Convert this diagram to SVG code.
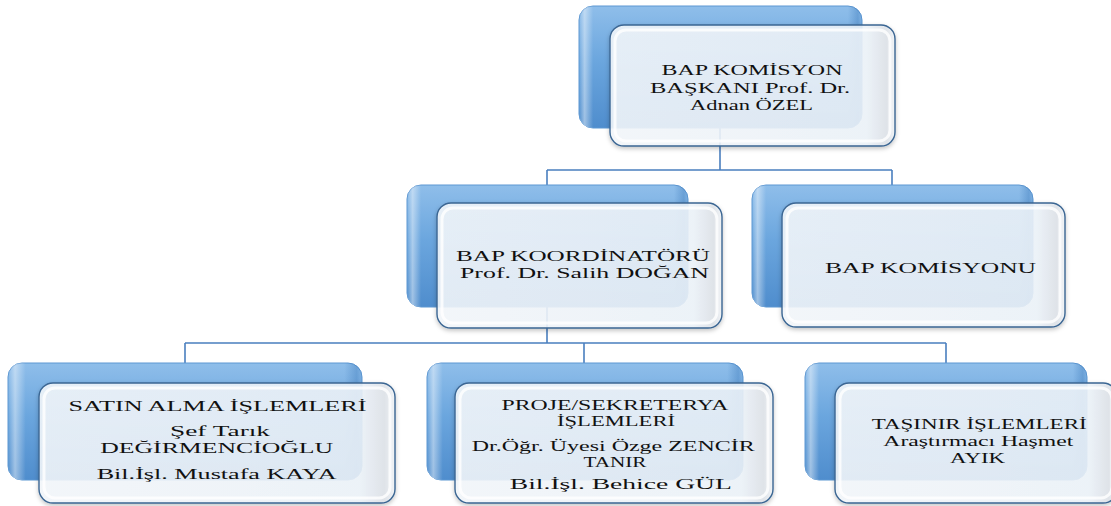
<svg xmlns="http://www.w3.org/2000/svg" width="1111" height="506" viewBox="0 0 1111 506">
  <defs>
    <linearGradient id="backGrad" x1="0" y1="0" x2="0" y2="1">
      <stop offset="0" stop-color="#8fbeea"/>
      <stop offset="0.45" stop-color="#6ba6de"/>
      <stop offset="1" stop-color="#4f8dcd"/>
    </linearGradient>
    <linearGradient id="backSide" x1="0" y1="0" x2="1" y2="0">
      <stop offset="0" stop-color="#ffffff" stop-opacity="0"/>
      <stop offset="0.02" stop-color="#ffffff" stop-opacity="0.45"/>
      <stop offset="0.05" stop-color="#ffffff" stop-opacity="0"/>
      <stop offset="0.95" stop-color="#2f6fb3" stop-opacity="0"/>
      <stop offset="0.985" stop-color="#2f6fb3" stop-opacity="0.35"/>
      <stop offset="1" stop-color="#2f6fb3" stop-opacity="0.1"/>
    </linearGradient>
    <linearGradient id="frontGrad" x1="0" y1="0" x2="1" y2="0">
      <stop offset="0" stop-color="#f4f8fc"/>
      <stop offset="0.9" stop-color="#eef4fa"/>
      <stop offset="0.97" stop-color="#dfe4ea"/>
      <stop offset="1" stop-color="#f2f5f8"/>
    </linearGradient>
    <filter id="shadow" x="-10%" y="-10%" width="120%" height="130%">
      <feDropShadow dx="0" dy="2" stdDeviation="2" flood-color="#000" flood-opacity="0.25"/>
    </filter>
  </defs>
  <style>
    .back { fill: url(#backGrad); stroke: #5d97d2; stroke-width: 1; }
    .backhl { fill: url(#backSide); }
    .front { fill: url(#frontGrad); fill-opacity: 0.88; stroke: #3b6693; stroke-width: 1.4; }
    .fronthl { fill: none; stroke: #ffffff; stroke-width: 3; stroke-opacity: 0.8; }
    .conn { fill: none; stroke: #4a7fbf; stroke-width: 1.6; }
    text { font-family: "Liberation Serif", "Times New Roman", serif; font-size: 14.5px; fill: #111; text-anchor: middle; }
  </style>

  <g id="connectors">
    <path class="conn" d="M720,128 V170 M547,170 H892 M547,170 V185 M892,170 V185"/>
    <path class="conn" d="M547,307 V343 M185,343 H946 M185,343 V363 M584,343 V363 M946,343 V363"/>
  </g>

  <g id="node-baskan">
    <rect class="back" x="579" y="6" width="283" height="122" rx="14"/>
    <rect class="backhl" x="579" y="6" width="283" height="122" rx="14"/>
    <rect class="front" x="610" y="25" width="285" height="121" rx="14" filter="url(#shadow)"/>
    <rect class="fronthl" x="615" y="30" width="275" height="111" rx="11"/>
    <text x="752" y="75" textLength="181" lengthAdjust="spacingAndGlyphs">BAP KOMİSYON</text>
    <text x="750" y="92.5" textLength="200" lengthAdjust="spacingAndGlyphs">BAŞKANI  Prof. Dr.</text>
    <text x="751.5" y="110" textLength="123" lengthAdjust="spacingAndGlyphs">Adnan ÖZEL</text>
  </g>

  <g id="node-koordinator">
    <rect class="back" x="407" y="185" width="281" height="122" rx="14"/>
    <rect class="backhl" x="407" y="185" width="281" height="122" rx="14"/>
    <rect class="front" x="437" y="203" width="285" height="125" rx="14" filter="url(#shadow)"/>
    <rect class="fronthl" x="442" y="208" width="275" height="115" rx="11"/>
    <text x="583" y="261" textLength="254" lengthAdjust="spacingAndGlyphs">BAP KOORDİNATÖRÜ</text>
    <text x="584.5" y="278" textLength="249" lengthAdjust="spacingAndGlyphs">Prof. Dr.  Salih DOĞAN</text>
  </g>

  <g id="node-komisyon">
    <rect class="back" x="752" y="185" width="281" height="122" rx="14"/>
    <rect class="backhl" x="752" y="185" width="281" height="122" rx="14"/>
    <rect class="front" x="782" y="203" width="283" height="124" rx="14" filter="url(#shadow)"/>
    <rect class="fronthl" x="787" y="208" width="273" height="114" rx="11"/>
    <text x="930.5" y="272.5" textLength="211" lengthAdjust="spacingAndGlyphs">BAP KOMİSYONU</text>
  </g>

  <g id="node-satinalma">
    <rect class="back" x="8" y="363" width="354" height="117" rx="14"/>
    <rect class="backhl" x="8" y="363" width="354" height="117" rx="14"/>
    <rect class="front" x="39" y="383" width="356" height="120" rx="14" filter="url(#shadow)"/>
    <rect class="fronthl" x="44" y="388" width="346" height="110" rx="11"/>
    <text x="217.5" y="410.7" textLength="298" lengthAdjust="spacingAndGlyphs">SATIN ALMA İŞLEMLERİ</text>
    <text x="220" y="436" textLength="100" lengthAdjust="spacingAndGlyphs">Şef Tarık</text>
    <text x="216.7" y="453.3" textLength="233" lengthAdjust="spacingAndGlyphs">DEĞİRMENCİOĞLU</text>
    <text x="216.7" y="479.3" textLength="240" lengthAdjust="spacingAndGlyphs">Bil.İşl.  Mustafa KAYA</text>
  </g>

  <g id="node-proje">
    <rect class="back" x="427" y="363" width="316" height="117" rx="14"/>
    <rect class="backhl" x="427" y="363" width="316" height="117" rx="14"/>
    <rect class="front" x="455" y="383" width="318" height="120" rx="14" filter="url(#shadow)"/>
    <rect class="fronthl" x="460" y="388" width="308" height="110" rx="11"/>
    <text x="615" y="409.5" textLength="227" lengthAdjust="spacingAndGlyphs">PROJE/SEKRETERYA</text>
    <text x="616" y="425.5" textLength="118" lengthAdjust="spacingAndGlyphs">İŞLEMLERİ</text>
    <text x="613.3" y="450.5" textLength="283" lengthAdjust="spacingAndGlyphs">Dr.Öğr. Üyesi Özge ZENCİR</text>
    <text x="615" y="467" textLength="63" lengthAdjust="spacingAndGlyphs">TANIR</text>
    <text x="620.8" y="488.5" textLength="222" lengthAdjust="spacingAndGlyphs">Bil.İşl. Behice GÜL</text>
  </g>

  <g id="node-tasinir">
    <rect class="back" x="805" y="363" width="282" height="117" rx="14"/>
    <rect class="backhl" x="805" y="363" width="282" height="117" rx="14"/>
    <rect class="front" x="835" y="383" width="282" height="120" rx="14" filter="url(#shadow)"/>
    <rect class="fronthl" x="840" y="388" width="272" height="110" rx="11"/>
    <text x="979.2" y="429" textLength="215" lengthAdjust="spacingAndGlyphs">TAŞINIR İŞLEMLERİ</text>
    <text x="978.3" y="446" textLength="190" lengthAdjust="spacingAndGlyphs">Araştırmacı Haşmet</text>
    <text x="977.5" y="462.5" textLength="55" lengthAdjust="spacingAndGlyphs">AYIK</text>
  </g>
</svg>
